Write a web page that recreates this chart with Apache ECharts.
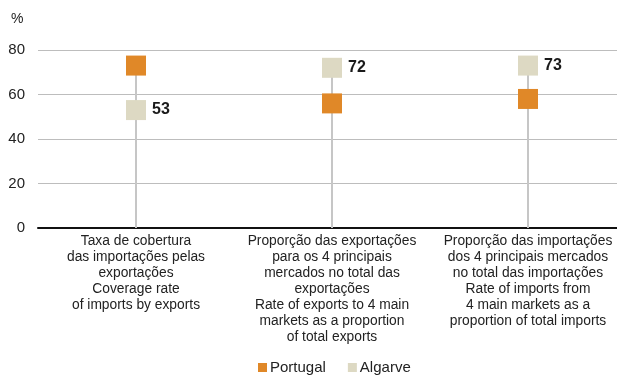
<!DOCTYPE html>
<html>
<head>
<meta charset="utf-8">
<script src="https://cdn.jsdelivr.net/npm/echarts@6/dist/echarts.min.js"></script>
<style>html,body{margin:0;padding:0;background:#fff}#c{width:617px;height:379px}</style>
</head>
<body>
<div id="c"></div>
<script>
const categories = [
  "Taxa de cobertura\ndas importações pelas\nexportações\nCoverage rate\nof imports by exports",
  "Proporção das exportações\npara os 4 principais\nmercados no total das\nexportações\nRate of exports to 4 main\nmarkets as a proportion\nof total exports",
  "Proporção das importações\ndos 4 principais mercados\nno total das importações\nRate of imports from\n4 main markets as a\nproportion of total imports"
];
const portugal = [73, 56, 58];
const algarve = [53, 72, 73];
const yTicks = [0, 20, 40, 60, 80];

const dropLine = portugal.map((v, i) => Math.max(v, algarve[i]));
const font = "'Liberation Sans', Arial, sans-serif";

const chart = echarts.init(document.getElementById('c'));
chart.setOption({
  animation: false,
  textStyle: { fontFamily: font },
  title: { text: '%', left: 6, top: 7, textStyle: { fontFamily: font, fontSize: 14, fontWeight: 'normal', color: '#222' } },
  grid: { left: 38, top: 50, width: 588, height: 178, outerBoundsMode: 'none', containLabel: false },
  legend: {
    data: ['Portugal', 'Algarve'],
    bottom: -1, left: 253,
    icon: 'rect', itemWidth: 9, itemHeight: 9, itemGap: 22,
    textStyle: { fontFamily: font, fontSize: 15, color: '#222', padding: [0, 0, 0, -2] }
  },
  xAxis: {
    type: 'category',
    data: categories,
    axisLine: { lineStyle: { color: '#111', width: 2 } },
    axisTick: { show: false },
    axisLabel: { interval: 0, margin: 5, fontFamily: font, fontSize: 13.8, lineHeight: 16, color: '#222' }
  },
  yAxis: {
    type: 'value', min: yTicks[0], max: yTicks[yTicks.length - 1], interval: 20,
    axisLine: { show: false }, axisTick: { show: false },
    axisLabel: { margin: 13, fontFamily: font, fontSize: 15, color: '#222' },
    splitLine: { lineStyle: { color: '#bdbdbd', width: 1.2 } }
  },
  series: [
    { name: 'drop', type: 'bar', data: dropLine, barWidth: 2, itemStyle: { color: '#c6c6c6' }, silent: true, z: 1 },
    { name: 'Portugal', type: 'scatter', data: portugal, symbol: 'rect', symbolSize: 20, itemStyle: { color: '#E08828', opacity: 1 }, z: 3 },
    { name: 'Algarve', type: 'scatter', data: algarve, symbol: 'rect', symbolSize: 20, itemStyle: { color: '#DDD9C3', opacity: 1 }, z: 3,
      label: { show: true, position: 'right', distance: 6, fontFamily: font, fontSize: 16, fontWeight: 'bold', color: '#1a1a1a' } }
  ]
});
</script>
</body>
</html>
